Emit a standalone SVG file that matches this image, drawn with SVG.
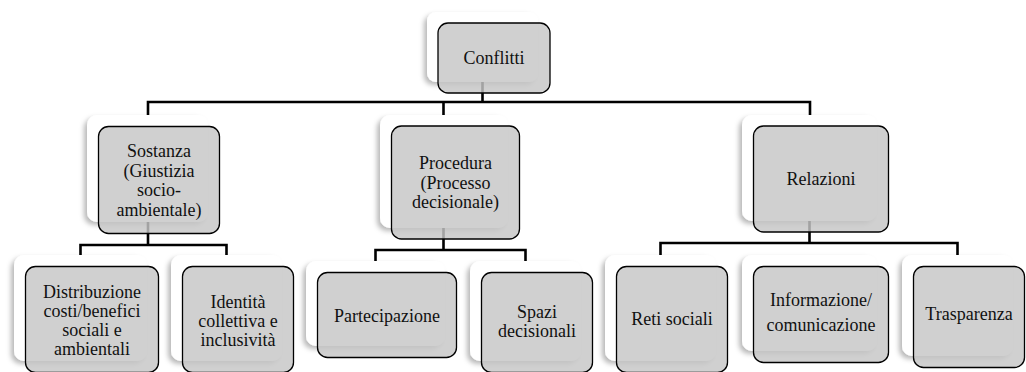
<svg xmlns="http://www.w3.org/2000/svg" width="1026" height="372" viewBox="0 0 1026 372">
<style>
.back{fill:#ffffff;filter:url(#sh)}
.front{fill:#c6c6c6;fill-opacity:0.82;stroke:#000;stroke-width:1.3}
.conn{fill:none;stroke:#000;stroke-width:2.6;stroke-linejoin:miter}
text{font-family:"Liberation Serif","Times New Roman",serif;font-size:18px;fill:#111;text-anchor:middle}
</style>
<defs>
<filter id="sh" x="-20%" y="-20%" width="140%" height="150%">
<feDropShadow dx="-3" dy="3" stdDeviation="2.5" flood-color="#000" flood-opacity="0.28"/>
</filter>
</defs>
<rect width="1026" height="372" fill="#fff"/>
<g id="connectors">
<path class="conn" d="M482.5,82 V102 M148,115 V102 H810 V115 M443.5,102 V115"/>
<path class="conn" d="M148,222 V245 M80.5,255 V245 H226.5 V255"/>
<path class="conn" d="M443.5,228 V250 M375.5,261 V250 H525.5 V261"/>
<path class="conn" d="M809.5,221 V243 M660.5,255 V243 H957.5 V255"/>
</g>
<g id="n-conflitti">
<rect class="back" x="427" y="12" width="111" height="70" rx="9"/>
<rect class="front" x="438" y="23" width="112" height="70" rx="10"/>
<text x="494" y="64">Conflitti</text>
</g>
<g id="n-sostanza">
<rect class="back" x="87" y="115" width="121" height="107" rx="10"/>
<rect class="front" x="98.5" y="126.5" width="121" height="107" rx="10"/>
<text x="159" y="157">Sostanza</text>
<text x="159" y="176.5">(Giustizia</text>
<text x="159" y="196">socio-</text>
<text x="159" y="215.5">ambientale)</text>
</g>
<g id="n-procedura">
<rect class="back" x="380" y="115" width="128" height="113" rx="10"/>
<rect class="front" x="391.5" y="126" width="128" height="113" rx="10"/>
<text x="455.5" y="169">Procedura</text>
<text x="455.5" y="188.5">(Processo</text>
<text x="455.5" y="208">decisionale)</text>
</g>
<g id="n-relazioni">
<rect class="back" x="742" y="115" width="135" height="106" rx="10"/>
<rect class="front" x="753.5" y="126" width="135" height="106" rx="10"/>
<text x="821" y="185">Relazioni</text>
</g>
<g id="n-distribuzione">
<rect class="back" x="14" y="255" width="133" height="106" rx="10"/>
<rect class="front" x="25.5" y="266.5" width="133" height="106" rx="10"/>
<text x="92" y="298">Distribuzione</text>
<text x="92" y="317">costi/benefici</text>
<text x="92" y="336">sociali e</text>
<text x="92" y="355">ambientali</text>
</g>
<g id="n-identita">
<rect class="back" x="171" y="255" width="111" height="106" rx="10"/>
<rect class="front" x="182.5" y="266.5" width="111" height="106" rx="10"/>
<text x="238" y="308">Identità</text>
<text x="238" y="327">collettiva e</text>
<text x="238" y="346">inclusività</text>
</g>
<g id="n-partecipazione">
<rect class="back" x="306" y="261" width="139" height="85" rx="10"/>
<rect class="front" x="317.5" y="272.5" width="139" height="85" rx="10"/>
<text x="387" y="321.5">Partecipazione</text>
</g>
<g id="n-spazi">
<rect class="back" x="470" y="261" width="111" height="100" rx="10"/>
<rect class="front" x="481.5" y="272.5" width="111" height="100" rx="10"/>
<text x="537" y="318">Spazi</text>
<text x="537" y="337">decisionali</text>
</g>
<g id="n-reti">
<rect class="back" x="605" y="255" width="111" height="106" rx="10"/>
<rect class="front" x="616.5" y="266.5" width="111" height="106" rx="10"/>
<text x="672" y="325">Reti sociali</text>
</g>
<g id="n-informazione">
<rect class="back" x="742" y="255" width="135" height="96" rx="10"/>
<rect class="front" x="753.5" y="266.5" width="135" height="96" rx="10"/>
<text x="821" y="306">Informazione/</text>
<text x="821" y="331">comunicazione</text>
</g>
<g id="n-trasparenza">
<rect class="back" x="902" y="255" width="111" height="101" rx="10"/>
<rect class="front" x="913.5" y="266.5" width="111" height="101" rx="10"/>
<text x="969" y="320">Trasparenza</text>
</g>
</svg>
